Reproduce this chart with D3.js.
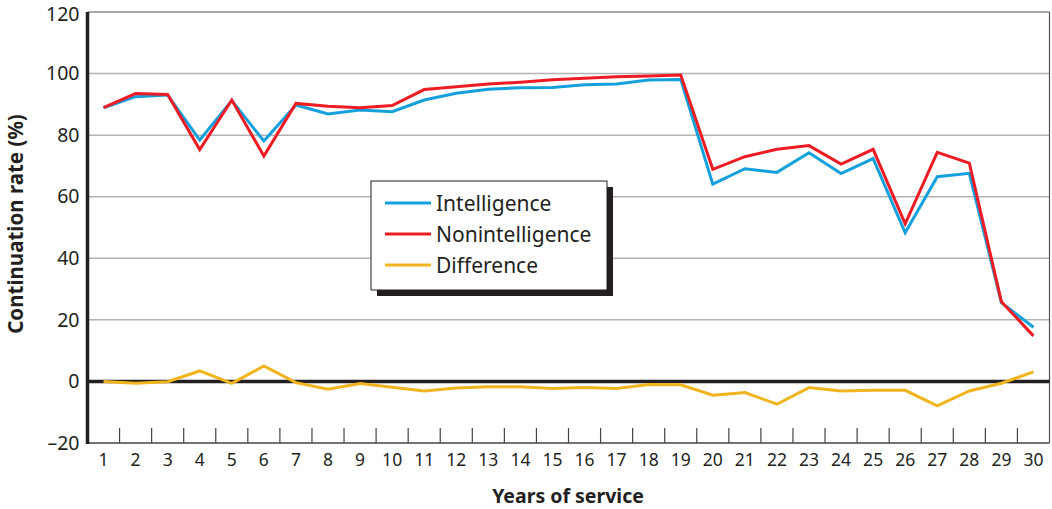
<!DOCTYPE html>
<html>
<head>
<meta charset="utf-8">
<script src="https://cdn.jsdelivr.net/npm/d3@7"></script>
<style>
  body { margin: 0; background: #fff; }
  text { font-family: "Noto Sans", "Open Sans", sans-serif; fill: #231f20; }
</style>
</head>
<body>
<div id="chart"></div>
<script>
var years = d3.range(1, 31);
var intelligence = [88.9, 92.5, 93.0, 78.4, 91.2, 78.1, 89.8, 86.9, 88.2, 87.6,
  91.4, 93.6, 94.9, 95.4, 95.5, 96.4, 96.6, 97.9, 98.1, 64.1,
  69.1, 67.9, 74.3, 67.5, 72.4, 48.3, 66.5, 67.6, 25.6, 17.6];
var nonintelligence = [88.9, 93.5, 93.2, 75.3, 91.4, 73.2, 90.3, 89.4, 88.9, 89.6,
  94.8, 95.7, 96.6, 97.2, 98.0, 98.5, 99.0, 99.2, 99.5, 68.9,
  73.0, 75.4, 76.6, 70.6, 75.4, 51.2, 74.4, 70.9, 25.9, 14.8];
var difference = [0.0, -0.6, -0.1, 3.4, -0.6, 5.0, -0.4, -2.5, -0.7, -1.9,
  -3.1, -2.1, -1.7, -1.7, -2.3, -2.0, -2.3, -1.0, -1.1, -4.5,
  -3.6, -7.4, -2.0, -3.1, -2.9, -2.9, -7.9, -3.1, -0.6, 3.1];
var yTicks = [-20, 0, 20, 40, 60, 80, 100, 120];
var seriesNames = ["Intelligence", "Nonintelligence", "Difference"];
var colors = ["#14a0dc", "#ed1c24", "#f0b51e"];

var w = 1052;
var h = 509;
var pl = 87.5, pr = 1049.5, pt = 12, pb = 443;

var svg = d3.select("#chart").append("svg").attr("width", w).attr("height", h);

var x = d3.scaleBand().domain(years).range([pl, pr]);
var y = d3.scaleLinear().domain([-20, 120]).range([pb, pt]);
var cx = (d) => x(d) + x.bandwidth() / 2;
var line = d3.line().x((d, i) => cx(years[i])).y((d) => y(d));

// gridlines
svg.append("g")
  .selectAll("line")
  .data(yTicks.filter((t) => t > 0 && t < 120))
  .enter()
  .append("line")
  .attr("x1", pl).attr("x2", pr)
  .attr("y1", (d) => y(d)).attr("y2", (d) => y(d))
  .attr("stroke", "#b3b3b3").attr("stroke-width", 1.5);

// frame
svg.append("line").attr("x1", pl).attr("x2", pr).attr("y1", y(120)).attr("y2", y(120))
  .attr("stroke", "#555").attr("stroke-width", 1.2);
svg.append("line").attr("x1", pr).attr("x2", pr).attr("y1", y(120)).attr("y2", pb)
  .attr("stroke", "#555").attr("stroke-width", 1.2);
svg.append("line").attr("x1", pl).attr("x2", pr).attr("y1", pb).attr("y2", pb)
  .attr("stroke", "#444").attr("stroke-width", 1.5);

// category tick marks at band boundaries
svg.append("g")
  .selectAll("line")
  .data(years.slice(1))
  .enter()
  .append("line")
  .attr("x1", (d) => x(d)).attr("x2", (d) => x(d))
  .attr("y1", pb - 15).attr("y2", pb)
  .attr("stroke", "#444").attr("stroke-width", 1.2);

// x axis labels
var xAxis = d3.axisBottom(x).tickSize(0).tickPadding(11);
var gx = svg.append("g").attr("transform", `translate(0,${pb})`).call(xAxis);
gx.select(".domain").remove();
gx.selectAll("text").attr("font-size", 17.5).style("font-family", "Noto Sans").attr("fill", "#231f20");

// y axis labels
var yAxis = d3.axisLeft(y).tickValues(yTicks).tickSize(0).tickPadding(8)
  .tickFormat((d) => (d < 0 ? "\u2013" + Math.abs(d) : d));
var gy = svg.append("g").attr("transform", `translate(${pl},0)`).call(yAxis);
gy.select(".domain").remove();
gy.selectAll("text").attr("font-size", 19.5).style("font-family", "Noto Sans").attr("fill", "#231f20");
gy.selectAll(".tick").filter((d) => d === 120).select("text").attr("dy", "0.42em");

// rate lines
[intelligence, nonintelligence].forEach((s, i) => {
  svg.append("path")
    .datum(s)
    .attr("d", line)
    .attr("fill", "none")
    .attr("stroke", colors[i])
    .attr("stroke-width", 3);
});

// zero line and left axis
svg.append("line").attr("x1", pl).attr("x2", pr).attr("y1", y(0)).attr("y2", y(0))
  .attr("stroke", "#231f20").attr("stroke-width", 3.5);
svg.append("line").attr("x1", pl).attr("x2", pl).attr("y1", y(120)).attr("y2", pb + 1)
  .attr("stroke", "#231f20").attr("stroke-width", 3.5);

// difference drawn over the zero line
svg.append("path")
  .datum(difference)
  .attr("d", line)
  .attr("fill", "none")
  .attr("stroke", colors[2])
  .attr("stroke-width", 3);

// axis titles
svg.append("text")
  .attr("transform", "translate(23,224) rotate(-90)")
  .attr("text-anchor", "middle")
  .attr("font-size", 20.5).attr("font-weight", "bold")
  .text("Continuation rate (%)");
svg.append("text")
  .attr("x", 568).attr("y", 503)
  .attr("text-anchor", "middle")
  .attr("font-size", 19.5).attr("font-weight", "bold")
  .text("Years of service");

// legend
var lg = svg.append("g").attr("transform", "translate(371,181)");
lg.append("rect").attr("x", 6).attr("y", 6).attr("width", 236).attr("height", 109).attr("fill", "#231f20");
lg.append("rect").attr("x", 0).attr("y", 0).attr("width", 236).attr("height", 109)
  .attr("fill", "#fff").attr("stroke", "#231f20").attr("stroke-width", 1);
seriesNames.forEach((n, i) => {
  var yy = 22 + i * 31;
  lg.append("line").attr("x1", 14).attr("x2", 60).attr("y1", yy).attr("y2", yy)
    .attr("stroke", colors[i]).attr("stroke-width", 3);
  lg.append("text").attr("x", 65).attr("y", yy + 7.5).attr("font-size", 21).text(n);
});
</script>
</body>
</html>
